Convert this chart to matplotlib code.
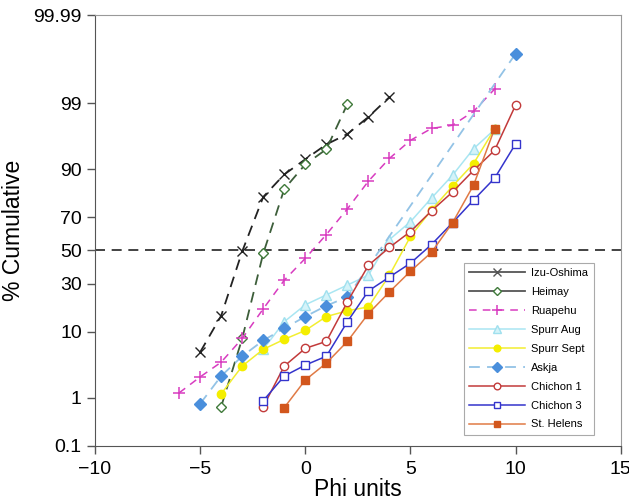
import math
import numpy as np
import matplotlib
matplotlib.use("Agg")
import matplotlib.pyplot as plt

plt.rcParams['font.family'] = ['Liberation Sans', 'DejaVu Sans']

# cumulative percent vs phi size
izu_x = [-5, -4, -3, -2, -1, 0, 1, 2, 3, 4]
izu_y = [5.4, 15.1, 49.4, 80.1, 88.5, 92.5, 95.3, 96.7, 98.25, 99.23]

heimay_x = [-4, -3, -2, -1, 0, 1, 2]
heimay_y = [0.68, 8.2, 48.1, 83.4, 91.3, 94.5, 98.96]

ruapehu_x = [-6, -5, -4, -3, -2, -1, 0, 1, 2, 3, 4, 5, 6, 7, 8, 9]
ruapehu_y = [1.22, 2.28, 3.87, 8.2, 17.8, 31.9, 45.0, 59.9, 74.4, 86.3, 92.7, 95.9, 97.3, 97.6, 98.6, 99.46]

spurr_aug_x = [-2, -1, 0, 1, 2, 3, 4, 5, 6, 7, 8, 9]
spurr_aug_y = [5.9, 13.0, 19.5, 24.1, 29.2, 34.8, 56.8, 67.5, 79.6, 88.25, 94.6, 97.2]

spurr_sept_x = [-4, -3, -2, -1, 0, 1, 2, 3, 4, 5, 6, 7, 8, 9]
spurr_sept_y = [1.17, 3.38, 5.9, 8.0, 10.3, 14.8, 17.0, 18.6, 34.8, 58.7, 73.9, 84.5, 91.5, 97.27]

askja_x = [-5, -4, -3, -2, -1, 0, 1, 2, 10]
askja_y = [0.77, 2.36, 4.73, 7.75, 10.9, 14.8, 19.1, 23.1, 99.906]

chichon1_x = [-2, -1, 0, 1, 2, 3, 4, 5, 6, 7, 8, 9, 10]
chichon1_y = [0.68, 3.38, 6.09, 7.53, 20.8, 40.7, 51.9, 61.7, 73.4, 82.2, 89.7, 94.3, 98.92]

chichon3_x = [-2, -1, 0, 1, 2, 3, 4, 5, 6, 7, 8, 9, 10]
chichon3_y = [0.88, 2.36, 3.5, 4.73, 13.0, 26.1, 33.7, 42.0, 53.7, 66.9, 78.7, 87.3, 95.4]

helens_x = [-1, 0, 1, 2, 3, 4, 5, 6, 7, 8, 9]
helens_y = [0.65, 2.03, 3.75, 7.53, 15.9, 25.6, 37.1, 48.8, 66.9, 84.9, 97.27]

y_ticks = [0.1, 1, 10, 30, 50, 70, 90, 99, 99.99]
y_labels = ['0.1', '1', '10', '30', '50', '70', '90', '99', '99.99']
x_ticks = [-10, -5, 0, 5, 10, 15]


def norm_ppf(pct):
    arr = np.asarray(pct, dtype=float)
    shape = arr.shape
    p = np.clip(np.atleast_1d(arr).ravel() / 100.0, 1e-12, 1 - 1e-12)
    a = [-3.969683028665376e+01, 2.209460984245205e+02, -2.759285104469687e+02,
         1.383577518672690e+02, -3.066479806614716e+01, 2.506628277459239e+00]
    b = [-5.447609879822406e+01, 1.615858368580409e+02, -1.556989798598866e+02,
         6.680131188771972e+01, -1.328068155288572e+01]
    c = [-7.784894002430293e-03, -3.223964580411365e-01, -2.400758277161838e+00,
         -2.549732539343734e+00, 4.374664141464968e+00, 2.938163982698783e+00]
    d = [7.784695709041462e-03, 3.224671290700398e-01, 2.445134137142996e+00,
         3.754408661907416e+00]
    plow = 0.02425
    z = np.empty_like(p)
    lo = p < plow
    hi = p > 1 - plow
    mid = ~(lo | hi)

    q = np.sqrt(-2 * np.log(p[lo]))
    z[lo] = (((((c[0]*q + c[1])*q + c[2])*q + c[3])*q + c[4])*q + c[5]) / \
            ((((d[0]*q + d[1])*q + d[2])*q + d[3])*q + 1)
    q = np.sqrt(-2 * np.log(1 - p[hi]))
    z[hi] = -(((((c[0]*q + c[1])*q + c[2])*q + c[3])*q + c[4])*q + c[5]) / \
            ((((d[0]*q + d[1])*q + d[2])*q + d[3])*q + 1)
    q = p[mid] - 0.5
    r = q * q
    z[mid] = (((((a[0]*r + a[1])*r + a[2])*r + a[3])*r + a[4])*r + a[5]) * q / \
             (((((b[0]*r + b[1])*r + b[2])*r + b[3])*r + b[4])*r + 1)
    return z.reshape(shape)


_erf = np.vectorize(math.erf)


def norm_cdf(z):
    z = np.asarray(z, dtype=float)
    return 50.0 * (1 + _erf(z / math.sqrt(2)))


fig = plt.figure(figsize=(6.29, 5.0), dpi=100)
ax = fig.add_axes([0.151, 0.108, 0.836, 0.862])
ax.set_yscale('function', functions=(norm_ppf, norm_cdf))

ax.axhline(50, color='#222222', lw=1.2, ls=(0, (6, 4)), zorder=1)

ms = 6
ax.plot(izu_x, izu_y, color='#222222', ls=(0, (6, 4)), lw=1.3, marker='x', ms=ms + 1,
        mew=1.0, label='Izu-Oshima')
ax.plot(heimay_x, heimay_y, color='#3d5e3a', ls=(0, (6, 4)), lw=1.3, marker='D', ms=ms - 1,
        mfc='white', mec='#3f7a3a', mew=1.0, label='Heimay')
ax.plot(ruapehu_x, ruapehu_y, color='#d83cc0', ls=(0, (5, 4)), lw=1.1, marker='+', ms=ms + 3,
        mew=1.1, label='Ruapehu')
ax.plot(spurr_aug_x, spurr_aug_y, color='#a9e6f2', lw=1.1, marker='^', ms=ms + 1,
        mfc='#d4f3f9', mec='#a0e0ee', label='Spurr Aug')
ax.plot(spurr_sept_x, spurr_sept_y, color='#f2ee30', lw=1.1, marker='o', ms=ms,
        mfc='#f4ee00', mec='#f4ee00', label='Spurr Sept')
ax.plot(askja_x, askja_y, color='#93c3e6', ls=(0, (6, 4)), lw=1.3, marker='D', ms=ms,
        mfc='#4a8fdc', mec='#4a8fdc', label='Askja')
ax.plot(chichon1_x, chichon1_y, color='#c23a3a', lw=1.1, marker='o', ms=ms,
        mfc='white', mec='#c23a3a', label='Chichon 1')
ax.plot(chichon3_x, chichon3_y, color='#3434cc', lw=1.1, marker='s', ms=ms,
        mfc='white', mec='#3434cc', label='Chichon 3')
ax.plot(helens_x, helens_y, color='#e07a45', lw=1.1, marker='s', ms=ms,
        mfc='#d2561c', mec='#d2561c', label='St. Helens')

ax.set_xlim(-10, 15)
ax.set_ylim(0.1, 99.99)
ax.set_xticks(x_ticks)
ax.set_yticks(y_ticks)
ax.set_yticklabels(y_labels)
ax.yaxis.set_minor_locator(matplotlib.ticker.NullLocator())
ax.tick_params(axis='both', direction='out', length=6, width=1, labelsize=14, color='#555555')
ax.tick_params(axis='x', pad=5)

for side in ['left', 'bottom']:
    ax.spines[side].set_color('#555555')
for side in ['top', 'right']:
    ax.spines[side].set_color('#999999')

ax.set_xlabel('Phi units', fontsize=16.5, labelpad=0)
ax.set_ylabel('% Cumulative', fontsize=16.5, labelpad=6)

leg = ax.legend(loc='lower right', bbox_to_anchor=(0.949, 0.0255), borderaxespad=0,
                fontsize=8, handlelength=5.0, handletextpad=0.6, labelspacing=0.8,
                markerscale=0.8, fancybox=False, edgecolor='#aaaaaa', framealpha=1,
                borderpad=0.5)
leg.get_frame().set_linewidth(0.8)
for line in leg.get_lines()[:2]:
    line.set_linestyle('-')
    line.set_color('#555555')

fig.savefig('out.png', dpi=100)
